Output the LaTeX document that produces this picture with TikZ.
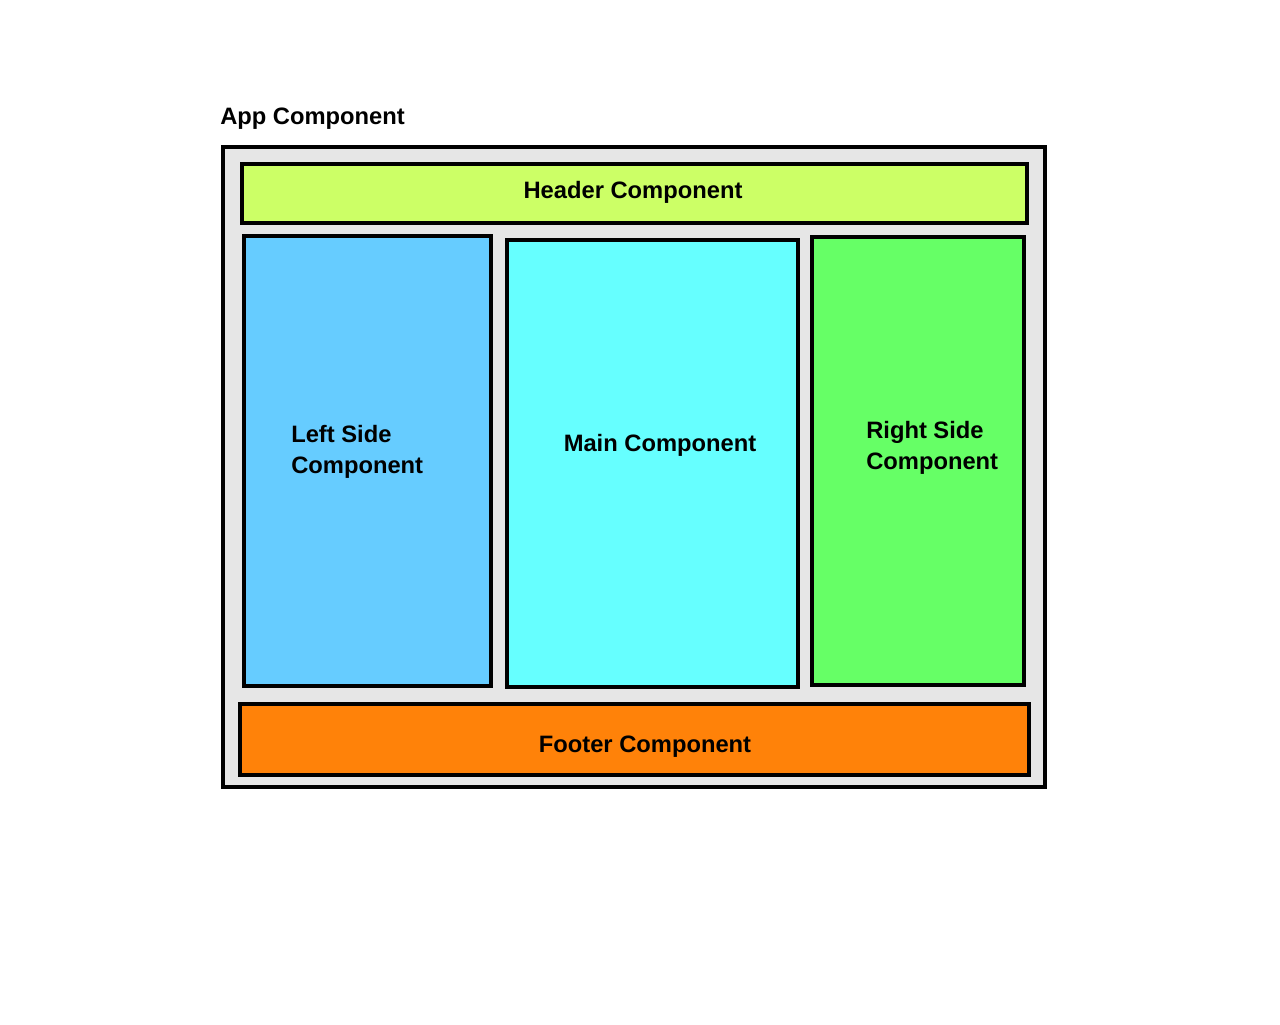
\documentclass[tikz,border=0pt]{standalone}
\usepackage{fontspec}
\setmainfont{Liberation Sans}
\definecolor{appgray}{HTML}{E6E6E6}
\definecolor{headergreen}{HTML}{CCFF66}
\definecolor{leftblue}{HTML}{66CCFF}
\definecolor{maincyan}{HTML}{66FFFF}
\definecolor{rightgreen}{HTML}{66FF66}
\definecolor{footerorange}{HTML}{FF8209}
\begin{document}
\begin{tikzpicture}[x=0.75pt,y=-0.75pt,
  panel/.style={draw=black,line width=3pt},
  label/.style={inner sep=0pt,font=\fontsize{17.8pt}{23pt}\selectfont\bfseries}]
\useasboundingbox (0,0) rectangle (1280,1024);
% outer application frame
\draw[panel,fill=appgray] (223,146.5) rectangle (1044.5,786.5);
% child components
\draw[panel,fill=headergreen]  (242,164)   rectangle (1027,222.5);
\draw[panel,fill=leftblue]     (244,236)   rectangle (491,685.5);
\draw[panel,fill=maincyan]     (507,240)   rectangle (798,687);
\draw[panel,fill=rightgreen]   (812,237)   rectangle (1024,684.5);
\draw[panel,fill=footerorange] (240,704)   rectangle (1029,775);
% titles
\node[label,anchor=base west] (app) at (220,124.3) {App Component};
\node[label,anchor=base] (header) at (633,198.5) {Header Component};
\node[label,anchor=base] (main) at (660,451) {Main Component};
\node[label,anchor=base] (footer) at (645,752) {Footer Component};
\node[label,anchor=base west] (left1) at (291,442.3) {Left Side};
\node[label,anchor=base west] (left2) at (291,473.3) {Component};
\node[label,anchor=base west] (right1) at (866,438.3) {Right Side};
\node[label,anchor=base west] (right2) at (866,469) {Component};
\end{tikzpicture}
\end{document}
